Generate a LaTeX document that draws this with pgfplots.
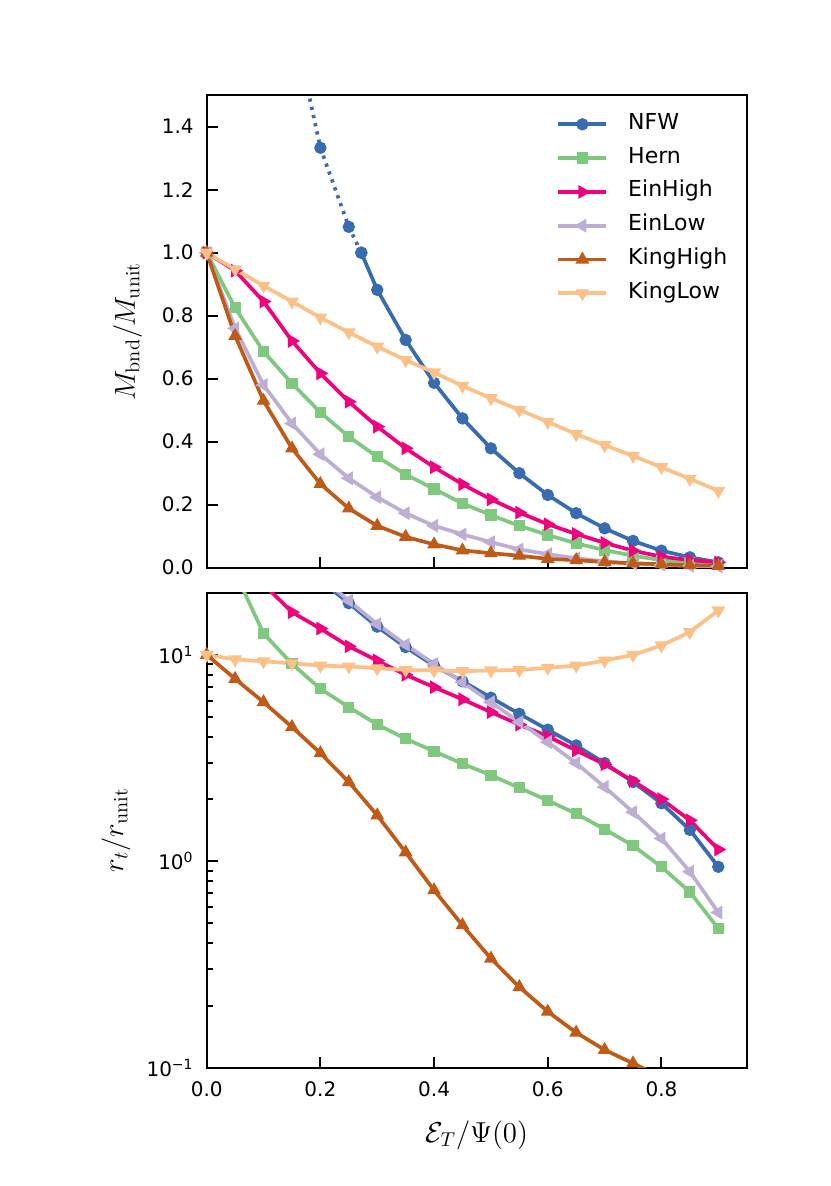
\documentclass[border=0pt]{standalone}
\usepackage[no-math]{fontspec}
\setmainfont{DejaVu Sans}
\usepackage{pgfplots}
\pgfplotsset{compat=1.18}
\definecolor{cnfw}{HTML}{386CB0}
\definecolor{chern}{HTML}{7FC97F}
\definecolor{ceinhigh}{HTML}{F0027F}
\definecolor{ceinlow}{HTML}{BEAED4}
\definecolor{ckinghigh}{HTML}{BF5B17}
\definecolor{ckinglow}{HTML}{FDC086}
\pgfplotsset{
  common/.style={
    scale only axis, width=270pt, xmin=0, xmax=0.95,
    tick align=inside, xtick pos=left, ytick pos=left,
    major tick length=5.5pt, minor tick length=3pt,
    axis line style={line width=1.2pt},
    every tick/.style={line width=1pt, black},
    tick label style={font=\fontsize{10}{12}\selectfont},
    /pgf/number format/assume math mode=true,
    xtick={0,0.2,0.4,0.6,0.8},
    xticklabel style={anchor=base, yshift=-14.2pt},
    yticklabel style={xshift=-3pt},
    label style={font=\fontsize{14.5}{17}\selectfont},
    every axis plot/.append style={line width=1.85pt},
  },
  snfw/.style={color=cnfw, mark=*, mark size=2.8pt, mark options={solid, line width=0.6pt}},
  shern/.style={color=chern, mark=square*, mark size=2.5pt, mark options={solid, line width=0.6pt}},
  seinhigh/.style={color=ceinhigh, mark=triangle*, mark size=3.4pt, mark options={solid, line width=0.6pt, rotate=-90}},
  seinlow/.style={color=ceinlow, mark=triangle*, mark size=3.4pt, mark options={solid, line width=0.6pt, rotate=90}},
  skinghigh/.style={color=ckinghigh, mark=triangle*, mark size=3.4pt, mark options={solid, line width=0.6pt}},
  skinglow/.style={color=ckinglow, mark=triangle*, mark size=3.4pt, mark options={solid, line width=0.6pt, rotate=180}},
}
\begin{document}
\begin{tikzpicture}
\path[use as bounding box] (0,0) rectangle (415pt,-593pt);
% ---------------- top panel ----------------
\begin{axis}[common,
  at={(103.35pt,-47.6pt)}, anchor=north west,
  height=236.25pt,
  ymin=0, ymax=1.5,
  ytick={0,0.2,0.4,0.6,0.8,1.0,1.2,1.4},
  xticklabels={},
  /pgf/number format/.cd, fixed, fixed zerofill, precision=1, /pgfplots/.cd,
  ylabel={$M_{\mathrm{bnd}}/M_{\mathrm{unit}}$},
  ylabel style={at={(axis description cs:-0.1328,0.5)}, anchor=base},
  legend style={at={(axis description cs:0.636,0.971)}, anchor=north west,
    draw=none, fill=none, font=\fontsize{11}{13}\selectfont,
    cells={anchor=west},
    nodes={inner sep=0pt, text height=8pt, text depth=3pt},
    row sep=5.9pt,
    /tikz/every odd column/.style={column sep=10pt}},
  legend image code/.code={\draw[mark repeat=2,mark phase=2] plot coordinates {(0pt,0pt)(12pt,0pt)(24pt,0pt)};},
]
\addplot[snfw, dash pattern=on 1.6pt off 2.6pt, forget plot] coordinates {
(0.15,1.75)(0.2,1.333)(0.25,1.082)(0.272,1.0)};
\addplot[snfw] coordinates {
(0.272,1.0)(0.3,0.882)(0.35,0.723)(0.4,0.587)(0.45,0.474)(0.5,0.379)(0.55,0.300)(0.6,0.231)(0.65,0.173)(0.7,0.125)(0.75,0.085)(0.8,0.054)(0.85,0.033)(0.9,0.017)};
\addlegendentry{NFW}
\addplot[shern] coordinates {
(0,1.0)(0.05,0.825)(0.1,0.686)(0.15,0.585)(0.2,0.493)(0.25,0.416)(0.3,0.352)(0.35,0.296)(0.4,0.250)(0.45,0.204)(0.5,0.167)(0.55,0.133)(0.6,0.104)(0.65,0.077)(0.7,0.056)(0.75,0.038)(0.8,0.024)(0.85,0.015)(0.9,0.010)};
\addlegendentry{Hern}
\addplot[seinhigh] coordinates {
(0,1.0)(0.05,0.943)(0.1,0.845)(0.15,0.720)(0.2,0.617)(0.25,0.527)(0.3,0.448)(0.35,0.379)(0.4,0.319)(0.45,0.265)(0.5,0.217)(0.55,0.175)(0.6,0.138)(0.65,0.107)(0.7,0.079)(0.75,0.054)(0.8,0.035)(0.85,0.024)(0.9,0.017)};
\addlegendentry{EinHigh}
\addplot[seinlow] coordinates {
(0,1.0)(0.05,0.760)(0.1,0.580)(0.15,0.458)(0.2,0.360)(0.25,0.284)(0.3,0.224)(0.35,0.173)(0.4,0.133)(0.45,0.106)(0.5,0.081)(0.55,0.058)(0.6,0.043)(0.65,0.030)(0.7,0.020)(0.75,0.013)(0.8,0.009)(0.85,0.006)(0.9,0.004)};
\addlegendentry{EinLow}
\addplot[skinghigh] coordinates {
(0,1.0)(0.05,0.736)(0.1,0.530)(0.15,0.379)(0.2,0.266)(0.25,0.188)(0.3,0.133)(0.35,0.098)(0.4,0.074)(0.45,0.055)(0.5,0.046)(0.55,0.038)(0.6,0.028)(0.65,0.024)(0.7,0.018)(0.75,0.014)(0.8,0.011)(0.85,0.008)(0.9,0.006)};
\addlegendentry{KingHigh}
\addplot[skinglow] coordinates {
(0,1.0)(0.05,0.947)(0.1,0.895)(0.15,0.845)(0.2,0.794)(0.25,0.747)(0.3,0.702)(0.35,0.659)(0.4,0.620)(0.45,0.577)(0.5,0.538)(0.55,0.501)(0.6,0.463)(0.65,0.424)(0.7,0.389)(0.75,0.355)(0.8,0.319)(0.85,0.282)(0.9,0.244)};
\addlegendentry{KingLow}
\end{axis}
% ---------------- bottom panel ----------------
\begin{axis}[common,
  at={(103.35pt,-296.35pt)}, anchor=north west,
  height=237.5pt,
  ymode=log, ymin=0.1, ymax=20,
  ytick={0.1,1,10},
  yticklabels={10\textsuperscript{−1},10\textsuperscript{0},10\textsuperscript{1}},
  xticklabels={0.0,0.2,0.4,0.6,0.8},
  ylabel={$r_t/r_{\mathrm{unit}}$},
  ylabel style={at={(axis description cs:-0.155,0.5)}, anchor=base},
  xlabel={$\mathcal{E}_T/\Psi(0)$},
  xlabel style={at={(axis description cs:0.5,-0.1575)}, anchor=base},
]
\addplot[snfw] coordinates {
(0.2,23)(0.25,17.8)(0.3,13.7)(0.35,10.9)(0.4,8.87)(0.45,7.45)(0.5,6.2)(0.55,5.18)(0.6,4.34)(0.65,3.64)(0.7,2.99)(0.75,2.42)(0.8,1.91)(0.85,1.42)(0.9,0.94)};
\addplot[shern] coordinates {
(0.05,25)(0.1,12.7)(0.15,9.04)(0.2,6.85)(0.25,5.58)(0.3,4.6)(0.35,3.92)(0.4,3.41)(0.45,2.97)(0.5,2.61)(0.55,2.27)(0.6,1.97)(0.65,1.70)(0.7,1.43)(0.75,1.19)(0.8,0.94)(0.85,0.71)(0.9,0.472)};
\addplot[seinhigh] coordinates {
(0.1,22)(0.15,16.1)(0.2,13.4)(0.25,11.0)(0.3,9.38)(0.35,8.0)(0.4,6.97)(0.45,6.09)(0.5,5.28)(0.55,4.59)(0.6,4.03)(0.65,3.44)(0.7,2.95)(0.75,2.45)(0.8,2.0)(0.85,1.58)(0.9,1.14)};
\addplot[seinlow] coordinates {
(0.2,24)(0.25,18.3)(0.3,14.1)(0.35,11.2)(0.4,9.04)(0.45,7.37)(0.5,5.9)(0.55,4.72)(0.6,3.78)(0.65,2.99)(0.7,2.29)(0.75,1.73)(0.8,1.29)(0.85,0.89)(0.9,0.565)};
\addplot[skinghigh] coordinates {
(0,10.0)(0.05,7.65)(0.1,5.9)(0.15,4.47)(0.2,3.34)(0.25,2.42)(0.3,1.67)(0.35,1.105)(0.4,0.724)(0.45,0.490)(0.5,0.338)(0.55,0.246)(0.6,0.187)(0.65,0.148)(0.7,0.122)(0.75,0.105)(0.8,0.09)};
\addplot[skinglow] coordinates {
(0,10.0)(0.05,9.5)(0.1,9.3)(0.15,9.1)(0.2,8.87)(0.25,8.78)(0.3,8.61)(0.35,8.45)(0.4,8.4)(0.45,8.33)(0.5,8.4)(0.55,8.45)(0.6,8.65)(0.65,8.87)(0.7,9.38)(0.75,10.0)(0.8,11.1)(0.85,12.9)(0.9,16.4)};
\end{axis}
\end{tikzpicture}
\end{document}
